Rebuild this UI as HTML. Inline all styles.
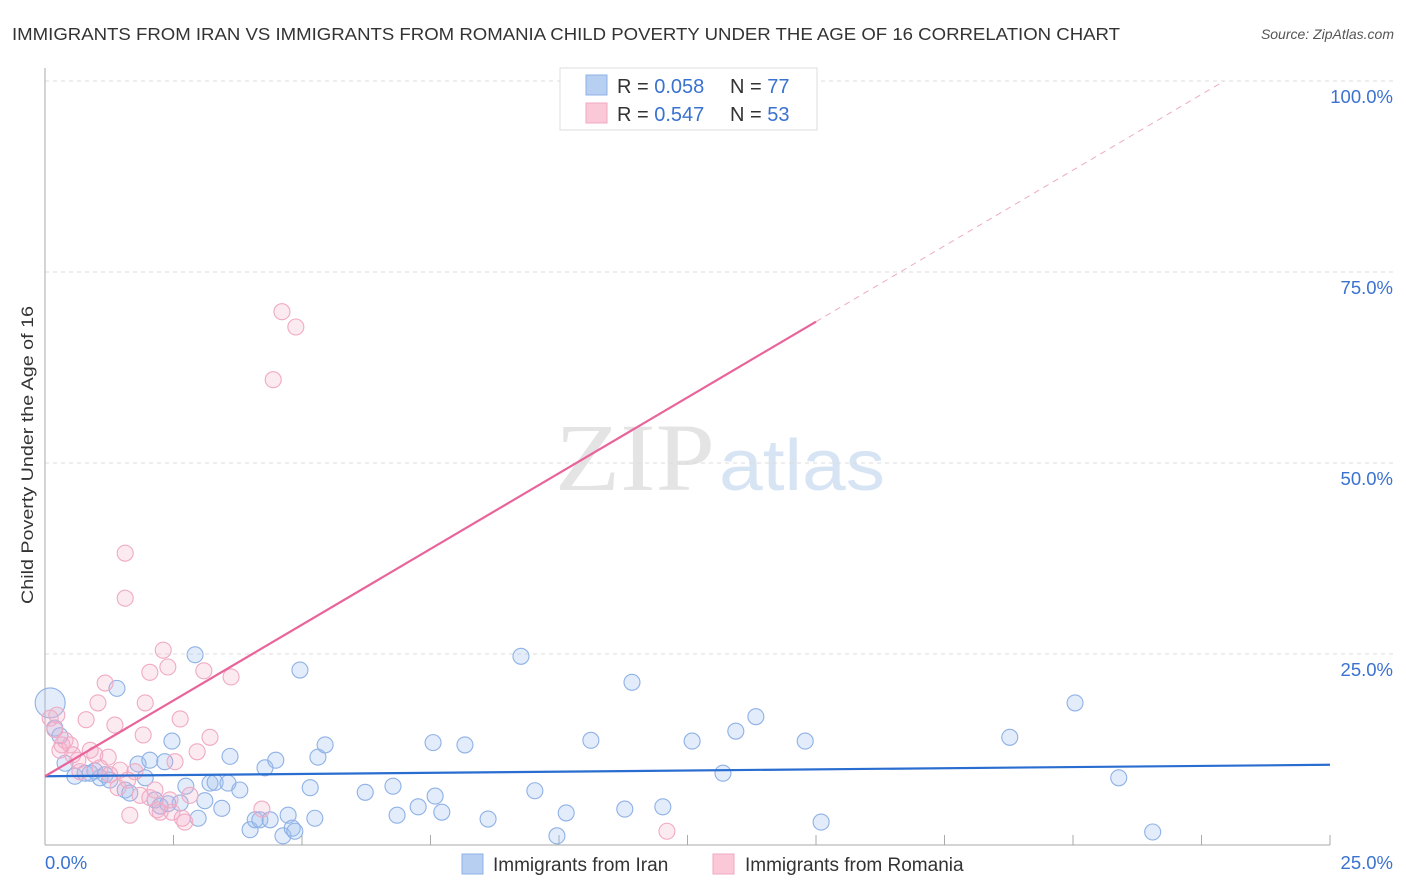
<!DOCTYPE html>
<html><head><meta charset="utf-8"><style>
body{margin:0;background:#fff;font-family:"Liberation Sans",sans-serif}
svg{display:block}
</style></head><body>
<svg id="chart" width="1406" height="892" xmlns="http://www.w3.org/2000/svg">
<text x="12" y="40" font-size="17.5" fill="#333" textLength="1108" lengthAdjust="spacingAndGlyphs">IMMIGRANTS FROM IRAN VS IMMIGRANTS FROM ROMANIA CHILD POVERTY UNDER THE AGE OF 16 CORRELATION CHART</text>
<text x="1394" y="39" font-size="14" fill="#555" font-style="italic" text-anchor="end">Source: ZipAtlas.com</text>
<text transform="translate(33,455) rotate(-90)" font-size="17" fill="#333" text-anchor="middle" textLength="298" lengthAdjust="spacingAndGlyphs">Child Poverty Under the Age of 16</text>
<g>
<text x="555" y="490" font-family="Liberation Serif,serif" font-size="96" fill="#e4e4e4" textLength="160" lengthAdjust="spacingAndGlyphs">ZIP</text>
<text x="719" y="490" font-size="72" fill="#d7e4f4" textLength="166" lengthAdjust="spacingAndGlyphs">atlas</text>
</g>
<g id="grid"></g>
<g id="axes"></g>
<g id="pts"></g>
<g id="lines"></g>
<g>
<rect x="560" y="68" width="257" height="62" fill="#fff" stroke="#ddd"/>
<rect x="586" y="75" width="21" height="20" fill="#b7d0f2" stroke="#8fb1e6"/>
<rect x="586" y="103" width="21" height="20" fill="#fbc8d8" stroke="#f0a8c0"/>
<text x="617" y="93" font-size="20" fill="#333">R = <tspan fill="#3a72d0">0.058</tspan></text>
<text x="730" y="93" font-size="20" fill="#333">N = <tspan fill="#3a72d0">77</tspan></text>
<text x="617" y="121" font-size="20" fill="#333">R = <tspan fill="#3a72d0">0.547</tspan></text>
<text x="730" y="121" font-size="20" fill="#333">N = <tspan fill="#3a72d0">53</tspan></text>
</g>
<g>
<rect x="462" y="854" width="21" height="20" fill="#b7d0f2" stroke="#8fb1e6"/>
<text x="493" y="871" font-size="19" fill="#333">Immigrants from Iran</text>
<rect x="713" y="854" width="21" height="20" fill="#fbc8d8" stroke="#f0a8c0"/>
<text x="745" y="871" font-size="19" fill="#333">Immigrants from Romania</text>
</g>
</svg>
<script>
const yTicks=[25,50,75,100];
const xTickVals=[0,2.5,5,7.5,10,12.5,15,17.5,20,22.5,25];
const xLabels=["0.0%","25.0%"];
const iranX=[0.1,0.19,0.29,0.39,0.58,0.78,0.97,1.07,1.17,1.26,1.4,1.56,1.65,1.81,1.95,2.04,2.14,2.24,2.33,2.47,2.63,2.74,2.92,2.98,3.11,3.21,3.31,3.44,3.6,3.56,3.79,3.99,4.09,4.18,4.28,4.38,4.49,4.63,4.73,4.81,4.86,4.96,5.16,5.25,5.31,5.45,6.23,6.77,6.85,7.26,7.55,7.59,7.72,8.17,8.62,9.26,9.53,9.96,10.14,10.62,11.28,11.42,12.02,12.59,13.19,13.44,13.83,14.79,15.1,18.77,20.04,20.89,21.55,0.88,2.39];
const iranY=[18.6,15.3,14.3,10.7,9.0,9.4,9.7,8.8,9.2,8.5,20.5,7.2,6.8,10.6,8.8,11.1,5.9,5.1,10.9,13.6,5.5,7.7,24.9,3.5,5.8,8.1,8.2,4.8,11.6,8.1,7.2,2.0,3.3,3.3,10.1,3.3,11.1,1.2,3.9,2.2,1.8,22.9,7.5,3.5,11.5,13.1,6.9,7.7,3.9,5.0,13.4,6.4,4.3,13.1,3.4,24.7,7.1,1.2,4.2,13.7,4.7,21.3,5.0,13.6,9.4,14.9,16.8,13.6,3.0,14.1,18.6,8.8,1.7,9.4,5.4];
const romX=[0.1,0.19,0.29,0.39,0.49,0.54,0.64,0.8,0.88,0.97,1.03,1.17,1.23,1.36,1.42,1.46,1.56,1.56,1.65,1.75,1.85,1.91,1.95,2.04,2.14,2.18,2.24,2.3,2.39,2.43,2.53,2.63,2.72,2.82,2.96,3.09,3.21,3.62,4.22,4.44,4.61,4.88,12.1,0.23,0.33,0.68,1.07,1.26,1.61,2.04,2.47,2.67,14.55];
const romY=[16.6,15.1,12.4,13.7,13.1,11.8,11.1,16.4,12.4,11.8,18.6,21.2,11.5,15.7,7.5,9.8,38.2,32.3,3.9,9.6,6.5,14.4,18.6,22.6,7.2,4.6,4.3,25.5,23.3,5.9,10.9,16.5,3.0,6.5,12.2,22.8,14.1,22.0,4.7,60.9,69.8,67.8,1.8,17.0,13.1,9.6,10.1,9.2,8.5,6.2,4.3,3.5,100];
const iranFit=[9.0,10.5];
const romFit=[9.0,68.5];
const NS="http://www.w3.org/2000/svg";
const X=v=>45+v*51.4, Y=v=>845-v*7.64;
function mk(t,a,p){const e=document.createElementNS(NS,t);for(const k in a)e.setAttribute(k,a[k]);document.getElementById(p).appendChild(e);return e;}
yTicks.forEach(t=>{
 const l=mk('line',{x1:45,x2:1394,y1:Y(t),y2:Y(t),stroke:'#ddd','stroke-dasharray':'4,4'},'grid');
 
 
 const tx=mk('text',{x:1393,y:Y(t)+22,'font-size':18.5,fill:'#3a72d0','text-anchor':'end'},'grid');
 tx.textContent=t.toFixed(1)+'%';
 
 
});
mk('line',{x1:45,x2:45,y1:68,y2:845,stroke:'#aaa'},'axes');
mk('line',{x1:45,x2:1330,y1:845,y2:845,stroke:'#aaa'},'axes');
xTickVals.forEach(t=>{const l=mk('line',{x1:X(t),x2:X(t),y1:845,y2:835,stroke:'#aaa'},'axes');
 
 });
const a=mk('text',{x:45,y:869,'font-size':18.5,fill:'#3a72d0'},'axes');a.textContent=xLabels[0];


const b=mk('text',{x:1393,y:869,'font-size':18.5,fill:'#3a72d0','text-anchor':'end'},'axes');b.textContent=xLabels[1];


iranX.forEach((x,i)=>{const c=mk('circle',{cx:X(x),cy:Y(iranY[i]),r:i===0?15:8,fill:'rgba(160,192,238,0.3)',stroke:'#8fb1e6','stroke-width':1.1},'pts');
 
 });
romX.forEach((x,i)=>{const c=mk('circle',{cx:X(x),cy:Y(romY[i]),r:8,fill:'rgba(245,170,198,0.25)',stroke:'#f0aac3','stroke-width':1.1},'pts');
 
 });
const l1=mk('line',{x1:X(0),y1:Y(iranFit[0]),x2:X(25),y2:Y(iranFit[1]),stroke:'#2a6dd0','stroke-width':2.2},'lines');


const s=(romFit[1]-romFit[0])/15, xe=(100-romFit[0])/s;
const l2=mk('line',{x1:X(0),y1:Y(romFit[0]),x2:X(15),y2:Y(romFit[1]),stroke:'#e8649a','stroke-width':2.2},'lines');


const l3=mk('line',{x1:X(15),y1:Y(romFit[1]),x2:X(xe),y2:Y(100),stroke:'#eeaac4','stroke-width':1,'stroke-dasharray':'6,5'},'lines');


</script>
</body></html>
